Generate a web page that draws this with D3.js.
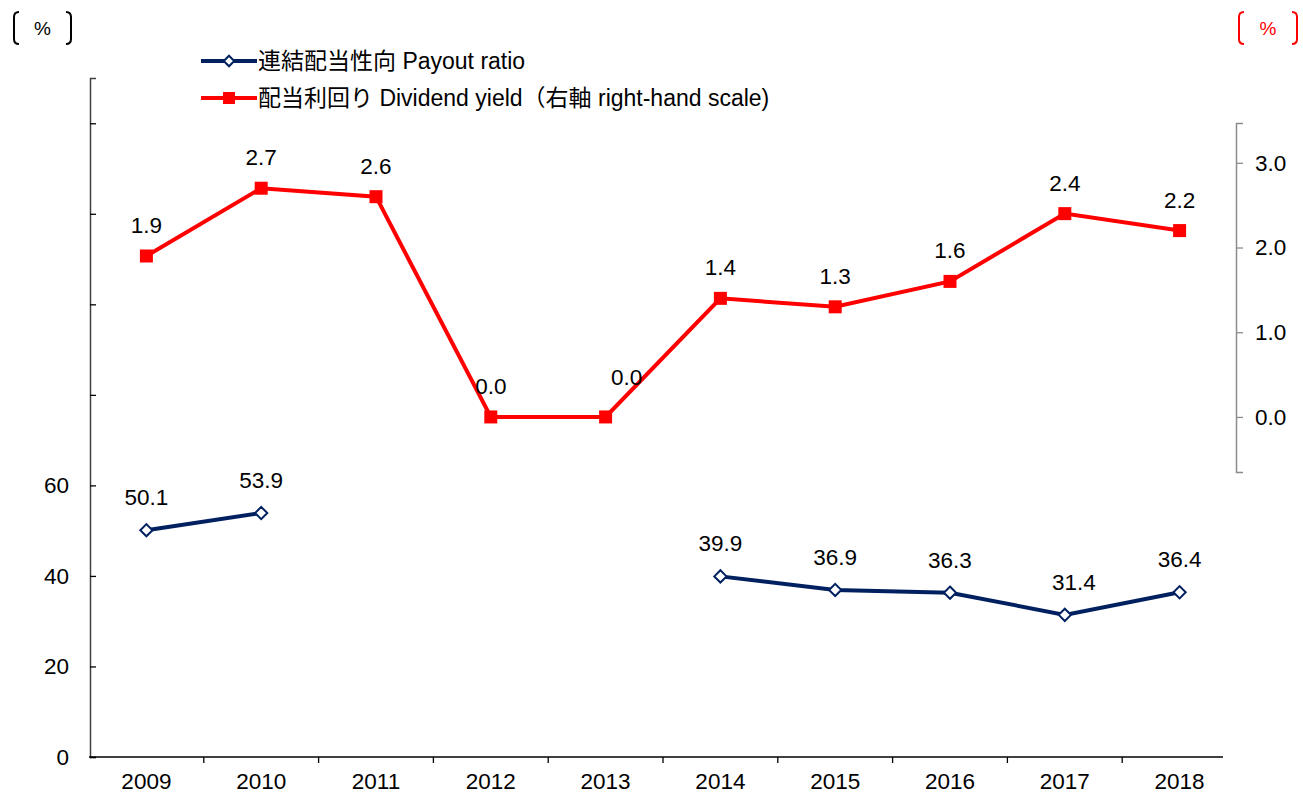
<!DOCTYPE html>
<html>
<head>
<meta charset="utf-8">
<script src="https://cdn.jsdelivr.net/npm/d3@7"></script>
<style>
  body { margin: 0; background: #fff; }
  text { font-family: 'Liberation Sans', Arial, 'Noto Sans CJK JP', sans-serif; }
</style>
</head>
<body>
<svg class="chart"></svg>
<script>
var years = ['2009','2010','2011','2012','2013','2014','2015','2016','2017','2018'];
var payout = [50.1, 53.9, null, null, null, 39.9, 36.9, 36.3, 31.4, 36.4];
var yieldVals = [1.9, 2.7, 2.6, 0.0, 0.0, 1.4, 1.3, 1.6, 2.4, 2.2];
var leftTicks = [0, 20, 40, 60, 80, 100, 120, 140];
var leftLabels = [0, 20, 40, 60];
var rightTicks = [0, 1, 2, 3];

var blue = '#002060', red = '#ff0000';
var fs = 22.5;

var svg = d3.select('.chart')
            .attr('width', 1303)
            .attr('height', 796);

var xScale = d3.scaleBand()
               .domain(years)
               .range([89, 1237]);

var yLeft = d3.scaleLinear()
              .domain([0, 150])
              .range([757, 78]);

var yRight = d3.scaleLinear()
               .domain([-0.65, 3.47])
               .range([472, 123]);

var cx = function (i) { return xScale(years[i]) + xScale.bandwidth() / 2; };

// left axis
var leftAxis = d3.axisRight(yLeft)
                 .tickValues(leftTicks)
                 .tickSize(6)
                 .tickFormat('');
var gl = svg.append('g')
            .attr('transform', 'translate(90,0)')
            .call(leftAxis);
gl.select('.domain').attr('stroke', '#404040').attr('stroke-width', 1.5);
gl.selectAll('.tick line').attr('stroke', '#000').attr('stroke-width', 1.3);

svg.selectAll('.lLabel').data(leftLabels)
   .enter()
   .append('text')
   .attr('x', 69)
   .attr('y', function (d) { return yLeft(d) + 8; })
   .attr('text-anchor', 'end')
   .attr('font-size', fs)
   .text(function (d) { return d; });

// right axis
var rightAxis = d3.axisRight(yRight)
                  .tickValues(rightTicks)
                  .tickSize(7)
                  .tickPadding(12)
                  .tickFormat(d3.format('.1f'));
var gr = svg.append('g')
            .attr('transform', 'translate(1236,0)')
            .call(rightAxis);
gr.select('.domain').attr('stroke', '#8c8c8c').attr('stroke-width', 1.5);
gr.selectAll('.tick line').attr('stroke', '#8c8c8c').attr('stroke-width', 1.3);
gr.selectAll('.tick text').attr('font-size', fs).attr('fill', '#000');

// x axis
var xAxis = d3.axisBottom(xScale).tickSize(0).tickPadding(16);
var gx = svg.append('g')
            .attr('transform', 'translate(0,757)')
            .call(xAxis);
gx.select('.domain').attr('d', 'M89,0H1223').attr('stroke', '#000').attr('stroke-width', 1.5);
gx.selectAll('.tick text').attr('font-size', fs).attr('fill', '#000');
gx.selectAll('.sep').data(years.slice(1))
  .enter()
  .append('line')
  .attr('x1', function (d) { return xScale(d); })
  .attr('x2', function (d) { return xScale(d); })
  .attr('y1', 0)
  .attr('y2', 6)
  .attr('stroke', '#000')
  .attr('stroke-width', 1.3);

// payout ratio line
var lineL = d3.line()
              .defined(function (d) { return d != null; })
              .x(function (d, i) { return cx(i); })
              .y(function (d) { return yLeft(d); });
svg.append('path')
   .datum(payout)
   .attr('d', lineL)
   .attr('fill', 'none')
   .attr('stroke', blue)
   .attr('stroke-width', 4);

var diamond = d3.symbol().type(d3.symbolDiamond2).size(95);
payout.forEach(function (d, i) {
    if (d == null) return;
    svg.append('path')
       .attr('d', diamond)
       .attr('transform', 'translate(' + cx(i) + ',' + yLeft(d) + ')')
       .attr('fill', '#fff')
       .attr('stroke', blue)
       .attr('stroke-width', 2);
    svg.append('text')
       .attr('x', cx(i) + (i === 8 ? 9 : 0))
       .attr('y', yLeft(d) - 25)
       .attr('text-anchor', 'middle')
       .attr('font-size', fs)
       .text(d.toFixed(1));
});

// dividend yield line
var lineR = d3.line()
              .x(function (d, i) { return cx(i); })
              .y(function (d) { return yRight(d); });
svg.append('path')
   .datum(yieldVals)
   .attr('d', lineR)
   .attr('fill', 'none')
   .attr('stroke', red)
   .attr('stroke-width', 4);

yieldVals.forEach(function (d, i) {
    svg.append('rect')
       .attr('x', cx(i) - 6.5)
       .attr('y', yRight(d) - 6.5)
       .attr('width', 13)
       .attr('height', 13)
       .attr('fill', red);
    svg.append('text')
       .attr('x', cx(i) + (i === 4 ? 21 : 0))
       .attr('y', yRight(d) - (i === 4 ? 32 : 23))
       .attr('text-anchor', 'middle')
       .attr('font-size', fs)
       .text(d.toFixed(1));
});

// legend
var legend = svg.append('g');
legend.append('line')
      .attr('x1', 201).attr('x2', 257).attr('y1', 61).attr('y2', 61)
      .attr('stroke', blue).attr('stroke-width', 4);
legend.append('path')
      .attr('d', d3.symbol().type(d3.symbolDiamond2).size(70))
      .attr('transform', 'translate(229,61)')
      .attr('fill', '#fff').attr('stroke', blue).attr('stroke-width', 2);
legend.append('text')
      .attr('x', 258).attr('y', 69)
      .attr('font-size', 23)
      .text('連結配当性向 Payout ratio');
legend.append('line')
      .attr('x1', 201).attr('x2', 257).attr('y1', 98).attr('y2', 98)
      .attr('stroke', red).attr('stroke-width', 4);
legend.append('rect')
      .attr('x', 223).attr('y', 92).attr('width', 12).attr('height', 12)
      .attr('fill', red);
legend.append('text')
      .attr('x', 258).attr('y', 106)
      .attr('font-size', 23)
      .text('配当利回り Dividend yield（右軸 right-hand scale)');

// unit brackets
var unit = function (x0, x1, color) {
    svg.append('path')
       .attr('d', 'M' + (x0 + 5) + ',12 Q' + x0 + ',12 ' + x0 + ',17 L' + x0 + ',39 Q' + x0 + ',44 ' + (x0 + 5) + ',44')
       .attr('fill', 'none').attr('stroke', color).attr('stroke-width', 2);
    svg.append('path')
       .attr('d', 'M' + (x1 - 5) + ',12 Q' + x1 + ',12 ' + x1 + ',17 L' + x1 + ',39 Q' + x1 + ',44 ' + (x1 - 5) + ',44')
       .attr('fill', 'none').attr('stroke', color).attr('stroke-width', 2);
    svg.append('text')
       .attr('x', (x0 + x1) / 2).attr('y', 35)
       .attr('text-anchor', 'middle')
       .attr('font-size', 19)
       .attr('fill', color)
       .text('%');
};
unit(14, 71, '#000');
unit(1239, 1297, red);
</script>
</body>
</html>
